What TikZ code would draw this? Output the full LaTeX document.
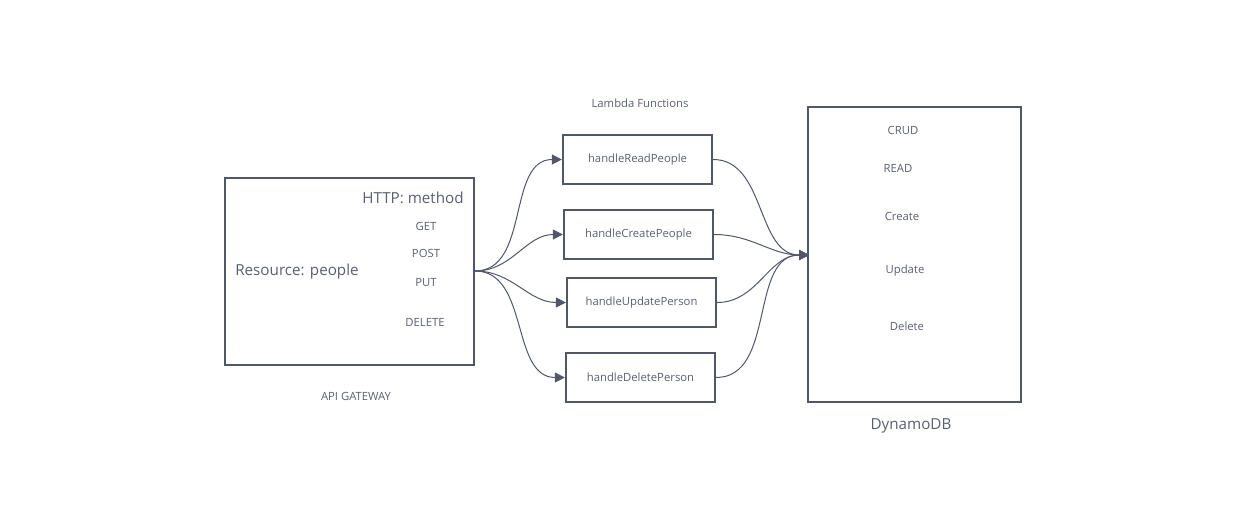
\documentclass[tikz,border=0pt]{standalone}
\usepackage{fontspec}
\setmainfont{Open Sans}
\usepackage{xcolor}
\definecolor{linegray}{RGB}{82, 87, 104}
\definecolor{textgray}{RGB}{90, 95, 112}
\usetikzlibrary{arrows.meta, positioning}

\begin{document}
\begin{tikzpicture}[
        x=1pt, y=-1pt,
        every node/.style={font=\fontsize{11.3}{13}\selectfont, text=textgray},
        bigbox/.style={rectangle, draw=linegray, line width=2.2pt, inner sep=0pt},
        lambdabox/.style={rectangle, draw=linegray, line width=2.2pt, minimum width=149pt, minimum height=49pt},
        biglabel/.style={font=\fontsize{15.2}{17}\selectfont},
        arrow/.style={draw=linegray, line width=1pt, -{Triangle[length=10pt, width=10pt]}}
    ]

        \useasboundingbox (0,0) rectangle (1245,530);

        % API gateway
        \node[bigbox, minimum width=249pt, minimum height=187pt] (api) at (349.5,271.5) {};
        \node[biglabel] (http) at (413,198) {HTTP: method};
        \node[biglabel] (resource) at (297,272) {Resource: people};
        \node (get) at (426,226) {GET};
        \node (post) at (426,253) {POST};
        \node (put) at (426,283) {PUT};
        \node (delete) at (425,322) {DELETE};
        \node (apilabel) at (356,396) {API GATEWAY};

        % Lambda functions
        \node (lambdalabel) at (640,103) {Lambda Functions};
        \node[lambdabox] (read) at (637.5,159.5) {handleReadPeople};
        \node[lambdabox] (create) at (638.5,234.5) {handleCreatePeople};
        \node[lambdabox] (update) at (641.5,302.5) {handleUpdatePerson};
        \node[lambdabox] (remove) at (640.5,377.5) {handleDeletePerson};

        % DynamoDB
        \node[bigbox, minimum width=213pt, minimum height=295pt] (dynamo) at (914.5,254.5) {};
        \node (crud) at (903,130) {CRUD};
        \node (dbread) at (898,168) {READ};
        \node (dbcreate) at (902,216) {Create};
        \node (dbupdate) at (905,271) {Update};
        \node (dbdelete) at (907,326) {Delete};
        \node[biglabel] (dynamolabel) at (911,426) {DynamoDB};

        \coordinate (fan) at (475,271);
        \coordinate (sink) at (809,255);

        \draw[arrow] (fan) to[out=0, in=180] (read.west);
        \draw[arrow] (fan) to[out=0, in=180] (create.west);
        \draw[arrow] (fan) to[out=0, in=180] (update.west);
        \draw[arrow] (fan) to[out=0, in=180] (remove.west);

        \draw[arrow] (read.east) to[out=0, in=180] (sink);
        \draw[arrow] (create.east) to[out=0, in=180] (sink);
        \draw[arrow] (update.east) to[out=0, in=180] (sink);
        \draw[arrow] (remove.east) to[out=0, in=180] (sink);

    \end{tikzpicture}
\end{document}
